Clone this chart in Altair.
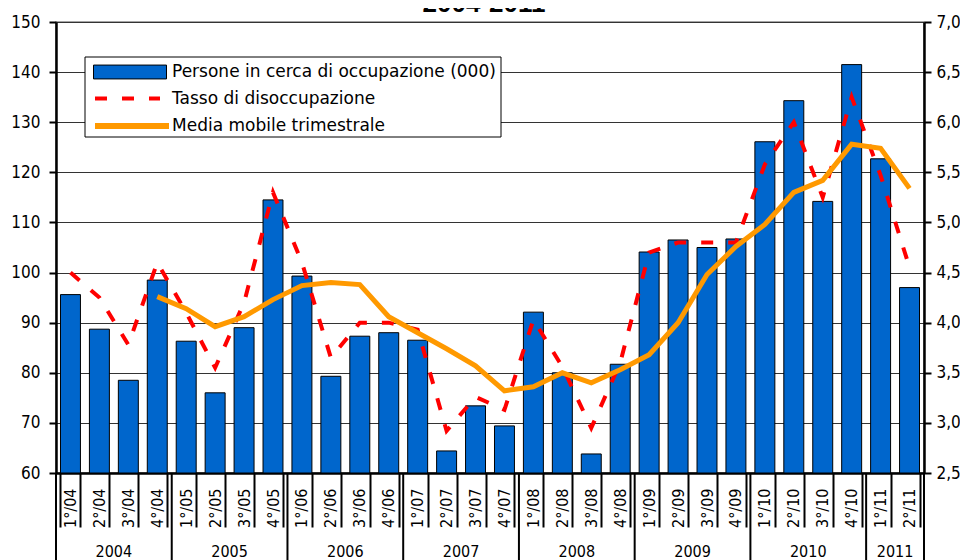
import altair as alt
import pandas as pd

# ---------------- data ----------------
quarters = ["1°/04", "2°/04", "3°/04", "4°/04",
            "1°/05", "2°/05", "3°/05", "4°/05",
            "1°/06", "2°/06", "3°/06", "4°/06",
            "1°/07", "2°/07", "3°/07", "4°/07",
            "1°/08", "2°/08", "3°/08", "4°/08",
            "1°/09", "2°/09", "3°/09", "4°/09",
            "1°/10", "2°/10", "3°/10", "4°/10",
            "1°/11", "2°/11"]
persone = [95.6, 88.7, 78.5, 98.5,
           86.3, 76.0, 89.0, 114.5,
           99.3, 79.3, 87.3, 88.0,
           86.5, 64.4, 73.4, 69.4,
           92.1, 80.0, 63.8, 81.7,
           104.1, 106.5, 105.0, 106.7,
           126.1, 134.3, 114.2, 141.5,
           122.7, 97.0]
tasso = [4.50, 4.25, 3.78, 4.60,
         4.10, 3.55, 4.20, 5.30,
         4.60, 3.65, 4.00, 4.00,
         3.93, 2.92, 3.26, 3.13,
         4.03, 3.56, 2.95, 3.60,
         4.70, 4.80, 4.80, 4.80,
         5.58, 6.00, 5.25, 6.25,
         5.47, 4.55]
media = [None, None, None, 4.26,
         4.14, 3.96, 4.06, 4.23,
         4.37, 4.40, 4.38, 4.06,
         3.90, 3.74, 3.57, 3.32,
         3.36, 3.50, 3.40, 3.53,
         3.68, 4.00, 4.48, 4.76,
         4.98, 5.30, 5.42, 5.78,
         5.74, 5.34]
years = ["2004", "2005", "2006", "2007", "2008", "2009", "2010", "2011"]
year_label_anchor = ["2°/04", "2°/05", "2°/06", "2°/07", "2°/08", "2°/09", "2°/10", "1°/11"]
year_start = ["1°/04", "1°/05", "1°/06", "1°/07", "1°/08", "1°/09", "1°/10", "1°/11"]
left_ticks = [60, 70, 80, 90, 100, 110, 120, 130, 140, 150]
right_ticks = [2.5, 3.0, 3.5, 4.0, 4.5, 5.0, 5.5, 6.0, 6.5, 7.0]
name_bar = "Persone in cerca di occupazione (000)"
name_tasso = "Tasso di disoccupazione"
name_media = "Media mobile trimestrale"
title_text = "2004-2011"

# ---------------- layout ----------------
W, H = 868, 451
FONT = "DejaVu Sans Condensed"
LFONT = "DejaVu Sans"
PAD_IN = 0.31
step = W / len(quarters)
half_gap = PAD_IN * step / 2

df = pd.DataFrame({
    "Trimestre": quarters,
    "Persone": persone,
    "Tasso": tasso,
    "Media": media,
    "s_bar": name_bar,
    "s_tasso": name_tasso,
    "s_media": name_media,
})

xscale = alt.Scale(domain=quarters, paddingInner=PAD_IN, paddingOuter=PAD_IN / 2)
xaxis = alt.Axis(title=None, labelAngle=270, labelAlign="right", labelBaseline="middle",
                 labelFont=FONT, labelFontSize=16, labelColor="black", labelPadding=-39,
                 tickBand="extent", tickSize=54, tickWidth=2, tickColor="black",
                 domainColor="black", domainWidth=2.5, grid=False)


def xenc(field, **kw):
    return alt.X(field, type="nominal", scale=xscale, axis=xaxis, title=None, **kw)


leg_common = dict(title=None, orient="none", padding=0, labelFont=LFONT, labelFontSize=17,
                  labelColor="black", labelLimit=0)

box = alt.Chart(alt.Data(values=[{}])).mark_rect(
    fill="white", stroke="black", strokeWidth=1
).encode(x=alt.value(29), x2=alt.value(445), y=alt.value(35), y2=alt.value(115))

bars = alt.Chart(df).mark_bar(stroke="black", strokeWidth=1).encode(
    x=xenc("Trimestre"),
    y=alt.Y("Persone:Q", scale=alt.Scale(domain=[60, 150], zero=False, nice=False),
            axis=alt.Axis(values=left_ticks, title=None, labelFont=FONT, labelFontSize=17,
                          labelColor="black", labelPadding=9, tickSize=7, tickWidth=2,
                          tickColor="black", domainColor="black", domainWidth=2.5,
                          grid=True, gridColor="#333333", gridWidth=1)),
    y2=alt.datum(60),
    fill=alt.Fill("s_bar:N", scale=alt.Scale(domain=[name_bar], range=["#0066CC"]),
                  legend=alt.Legend(**leg_common, legendX=37, legendY=13, labelOffset=5,
                                    symbolType="M-1,-0.19L1,-0.19L1,0.19L-1,0.19Z",
                                    symbolSize=73 * 73, symbolStrokeColor="black",
                                    symbolStrokeWidth=1, symbolOpacity=1)),
)

rscale = alt.Scale(domain=[2.5, 7.0], zero=False, nice=False)
raxis = alt.Axis(orient="right", values=right_ticks, title=None,
                 labelExpr="replace(format(datum.value, '.1f'), '.', ',')",
                 labelFont=FONT, labelFontSize=17, labelColor="black", labelPadding=5,
                 tickSize=7, tickWidth=2, tickColor="black", domainColor="black",
                 domainWidth=2.5, grid=False)
red = alt.Chart(df).mark_line(color="#FF0000", strokeWidth=4).encode(
    x=xenc("Trimestre"),
    y=alt.Y("Tasso:Q", scale=rscale, axis=raxis, title=None),
    strokeDash=alt.StrokeDash("s_tasso:N", scale=alt.Scale(domain=[name_tasso], range=[[12, 15]]),
                              legend=alt.Legend(**leg_common, legendX=37, legendY=42, labelOffset=10,
                                                symbolType="stroke", symbolSize=65 * 65,
                                                symbolStrokeColor="#FF0000", symbolStrokeWidth=4,
                                                symbolDash=[12, 15])),
)
orange = alt.Chart(df).mark_line(strokeWidth=5).encode(
    x=xenc("Trimestre"),
    y=alt.Y("Media:Q", scale=rscale, axis=raxis, title=None),
    stroke=alt.Stroke("s_media:N", scale=alt.Scale(domain=[name_media], range=["#FF9900"]),
                      legend=alt.Legend(**leg_common, legendX=36, legendY=64, labelOffset=0,
                                        symbolType="stroke", symbolSize=74 * 74,
                                        symbolStrokeWidth=6)),
)

seps = alt.Chart(pd.DataFrame({"start": year_start})).mark_rule(
    color="black", strokeWidth=2, xOffset=-half_gap
).encode(x=xenc("start", bandPosition=0), y=alt.value(H), y2=alt.value(H + 100))
sep_end = alt.Chart(alt.Data(values=[{}])).mark_rule(color="black", strokeWidth=2).encode(
    x=alt.value(W), y=alt.value(H), y2=alt.value(H + 100))

year_text = alt.Chart(pd.DataFrame({"anchor": year_label_anchor, "year": years})).mark_text(
    dx=half_gap, font=FONT, fontSize=16, baseline="alphabetic", align="center", color="black"
).encode(x=xenc("anchor", bandPosition=1), y=alt.value(H + 84), text="year:N")

title = alt.Chart(pd.DataFrame({"t": [title_text]})).mark_text(
    font="Liberation Sans", fontSize=26, fontWeight="bold", baseline="alphabetic",
    align="center", color="black"
).encode(x=alt.value(428), y=alt.value(-10), text="t:N")

chart = alt.layer(
    box, bars, alt.layer(red, orange), seps, sep_end, year_text, title
).resolve_scale(y="independent").properties(
    width=W, height=H,
    padding={"left": 48, "top": 14, "right": 36, "bottom": 95},
    autosize=alt.AutoSizeParams(type="none"),
).configure_view(stroke="#888888", strokeWidth=1.5)

chart.save("out.html", embed_options={"renderer": "svg", "actions": False})
